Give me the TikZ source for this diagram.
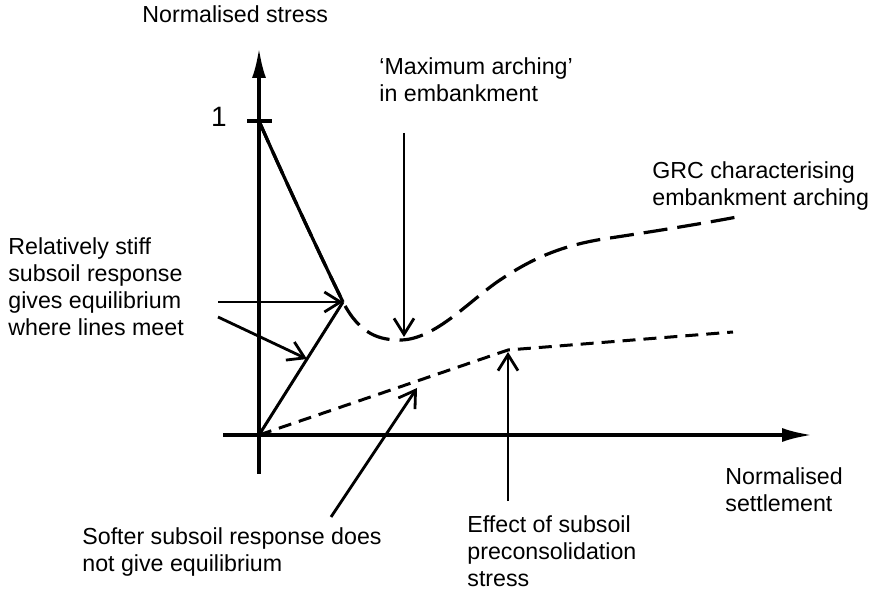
\documentclass[tikz,border=0pt]{standalone}
\usepackage{fontspec}
\setmainfont{Liberation Sans}
\usetikzlibrary{arrows.meta}
\tikzset{
  axisline/.style={line width=1.7pt, -{Latex[length=15pt,width=7pt]}},
  callout/.style={line width=1.4pt, -{Straight Barb[length=8pt,width=10pt]}},
  txt/.style={inner sep=0, align=left, anchor=north west, font=\fontsize{11.6}{13.5}\selectfont},
  grc/.style={line width=1.6pt, dash pattern=on 12pt off 5pt},
  soft/.style={line width=1.5pt, dash pattern=on 6.5pt off 4pt},
}
\begin{document}
\begin{tikzpicture}[x=0.5pt, y=-0.5pt]
  \useasboundingbox (0,0) rectangle (879,593);
  % AXES
  \coordinate (origin) at (259,435);
  \coordinate (yBottom) at (259,474);
  \coordinate (yTop) at (259,48);
  \coordinate (xLeft) at (223,435);
  \coordinate (xRight) at (812,435);
  \draw[axisline] (yBottom) -- (yTop);
  \draw[axisline] (xLeft) -- (xRight);
  \node[inner sep=0, anchor=base west, font=\fontsize{11.6}{13.5}\selectfont] (yLabel) at (142,23) {Normalised stress};
  \node[txt] (xLabel) at (725,467) {Normalised\\settlement};
  % TICK
  \coordinate (tickL) at (247,121);
  \coordinate (tickR) at (272,121);
  \draw[line width=1.7pt] (tickL) -- (tickR);
  \node[inner sep=0, anchor=base east, font=\fontsize{14}{16}\selectfont] (one) at (227,127) {1};
  % GRC CURVE
  \coordinate (grcStart) at (259,121);
  \coordinate (meet) at (343,302);
  \coordinate (grcMin) at (400,340);
  \coordinate (grcBend) at (500,280);
  \coordinate (grcFlat) at (610,238);
  \coordinate (grcEnd) at (737,217);
  \draw[line width=1.6pt] (grcStart) .. controls (285,180) and (320,255) .. (meet);
  \draw[grc] (grcStart) .. controls (285,180) and (320,255) .. (meet)
    .. controls (360,335) and (380,340) .. (grcMin)
    .. controls (435,340) and (470,300) .. (grcBend)
    .. controls (530,260) and (560,245) .. (grcFlat)
    .. controls (650,232) and (700,224) .. (grcEnd);
  \node[txt] (grcText) at (652,161) {GRC characterising\\embankment arching};
  % SUBSOIL LINES
  \coordinate (precon) at (508,350);
  \coordinate (softEnd) at (733,332);
  \draw[line width=1.5pt] (origin) -- (meet);
  \draw[soft] (origin) -- (precon) -- (softEnd);
  % ARROWS
  \node[txt] (stiffText) at (8,237) {Relatively stiff\\subsoil response\\gives equilibrium\\where lines meet};
  \coordinate (stiffA) at (218,302);
  \coordinate (stiffB) at (218,317);
  \coordinate (stiffHit) at (307,359);
  \draw[callout] (stiffA) -- (meet);
  \draw[callout] (stiffB) -- (stiffHit);
  \node[txt] (maxText) at (379,57) {‘Maximum arching’\\in embankment};
  \coordinate (maxTail) at (404,133);
  \coordinate (maxTip) at (404,337);
  \draw[callout] (maxTail) -- (maxTip);
  \node[txt] (softText) at (82,527) {Softer subsoil response does\\not give equilibrium};
  \coordinate (softTail) at (331,517);
  \coordinate (softTip) at (417,388);
  \draw[callout] (softTail) -- (softTip);
  \node[txt] (preconText) at (467,515) {Effect of subsoil\\preconsolidation\\stress};
  \coordinate (preconTail) at (508,501);
  \draw[callout, shorten >=1pt] (preconTail) -- (precon);
\end{tikzpicture}
\end{document}
